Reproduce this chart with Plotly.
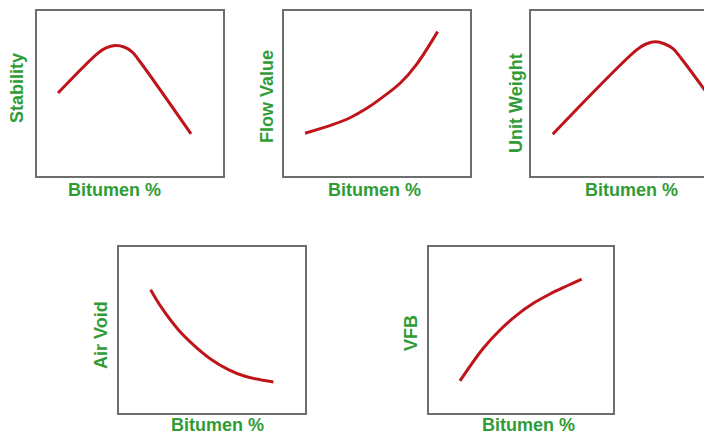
import plotly.graph_objects as go

W, H = 704, 436

# Marshall mix design trends: property vs bitumen content (arbitrary units, 0-10 scale)
stability_x = [1.13, 3.28, 3.71, 4.19, 4.68, 5.11, 5.43, 8.28]
stability_y = [5.03, 7.45, 7.76, 7.91, 7.82, 7.52, 7.09, 2.55]

flow_x = [1.13, 2.65, 3.55, 4.45, 5.34, 6.24, 7.13, 8.26]
flow_y = [2.59, 3.13, 3.53, 4.10, 4.81, 5.62, 6.77, 8.75]

unit_weight_x = [1.17, 5.68, 6.18, 6.70, 7.20, 7.65, 8.06, 9.89]
unit_weight_y = [2.53, 7.64, 8.00, 8.14, 8.00, 7.70, 7.15, 4.36]

air_void_x = [1.70, 2.30, 3.19, 4.09, 4.98, 5.88, 6.77, 8.30]
air_void_y = [7.43, 6.33, 5.02, 4.02, 3.21, 2.61, 2.21, 1.87]

vfb_x = [1.68, 2.95, 3.86, 4.77, 5.67, 6.58, 7.48, 8.30]
vfb_y = [1.93, 3.90, 5.00, 5.90, 6.61, 7.17, 7.65, 8.07]

y_titles = ["Stability", "Flow Value", "Unit Weight", "Air Void", "VFB"]
x_title = "Bitumen %"

series = [
    (stability_x, stability_y),
    (flow_x, flow_y),
    (unit_weight_x, unit_weight_y),
    (air_void_x, air_void_y),
    (vfb_x, vfb_y),
]

# Panel boxes in pixels: left, top, right, bottom
boxes = [
    (37, 11, 223, 176),
    (284, 11, 470, 176),
    (531, 11, 704, 176),
    (119, 247, 305, 413),
    (429, 247, 613, 413),
]
x_ranges = [[0, 10], [0, 10], [0, (704 - 531) / 18.6], [0, 10], [0, 10]]

# Label centres in pixels
ytitle_pos = [(17, 88), (267, 97), (516, 103), (101, 335), (411, 333)]
xtitle_pos = [(114, 190), (374, 190), (631, 190), (218, 436), (528, 436)]

GREEN = "#2f9c35"
RED = "#c0141b"
BOX = "#6e6e6e"
FONT = "Liberation Sans, Arial, sans-serif"


def px(x):
    return x / W


def py(y):
    return 1 - y / H


fig = go.Figure()
layout = dict(
    width=W,
    height=H,
    margin=dict(l=0, r=0, t=0, b=0),
    paper_bgcolor="white",
    plot_bgcolor="white",
    showlegend=False,
    annotations=[],
)

for i, ((xs, ys), (l, t, r, b)) in enumerate(zip(series, boxes)):
    n = "" if i == 0 else str(i + 1)
    fig.add_trace(
        go.Scatter(
            x=xs,
            y=ys,
            mode="lines",
            line=dict(color=RED, width=3, shape="spline", smoothing=1.0),
            xaxis="x" + n,
            yaxis="y" + n,
            hoverinfo="skip",
        )
    )
    common = dict(
        showgrid=False,
        zeroline=False,
        showticklabels=False,
        ticks="",
        showline=True,
        linecolor=BOX,
        linewidth=1.5,
        fixedrange=True,
    )
    layout["xaxis" + n] = dict(
        common,
        domain=[px(l), px(r)],
        range=x_ranges[i],
        mirror=True,
        anchor="y" + n,
    )
    layout["yaxis" + n] = dict(
        common,
        domain=[py(b), py(t)],
        range=[0, 10],
        mirror=(i != 2),
        anchor="x" + n,
    )
    yx, yy = ytitle_pos[i]
    layout["annotations"].append(
        dict(
            text="<b>%s</b>" % y_titles[i],
            x=px(yx),
            y=py(yy),
            xref="paper",
            yref="paper",
            textangle=-90,
            showarrow=False,
            xanchor="center",
            yanchor="middle",
            font=dict(family=FONT, size=18, color=GREEN),
        )
    )
    xx, xy = xtitle_pos[i]
    bottom_row = i >= 3
    layout["annotations"].append(
        dict(
            text="<b>%s</b>" % x_title,
            x=px(xx),
            y=py(xy),
            xref="paper",
            yref="paper",
            showarrow=False,
            xanchor="center",
            yanchor="bottom" if bottom_row else "middle",
            borderpad=0,
            font=dict(family=FONT, size=18, color=GREEN),
        )
    )

fig.update_layout(layout)
fig.write_html("out.html")
